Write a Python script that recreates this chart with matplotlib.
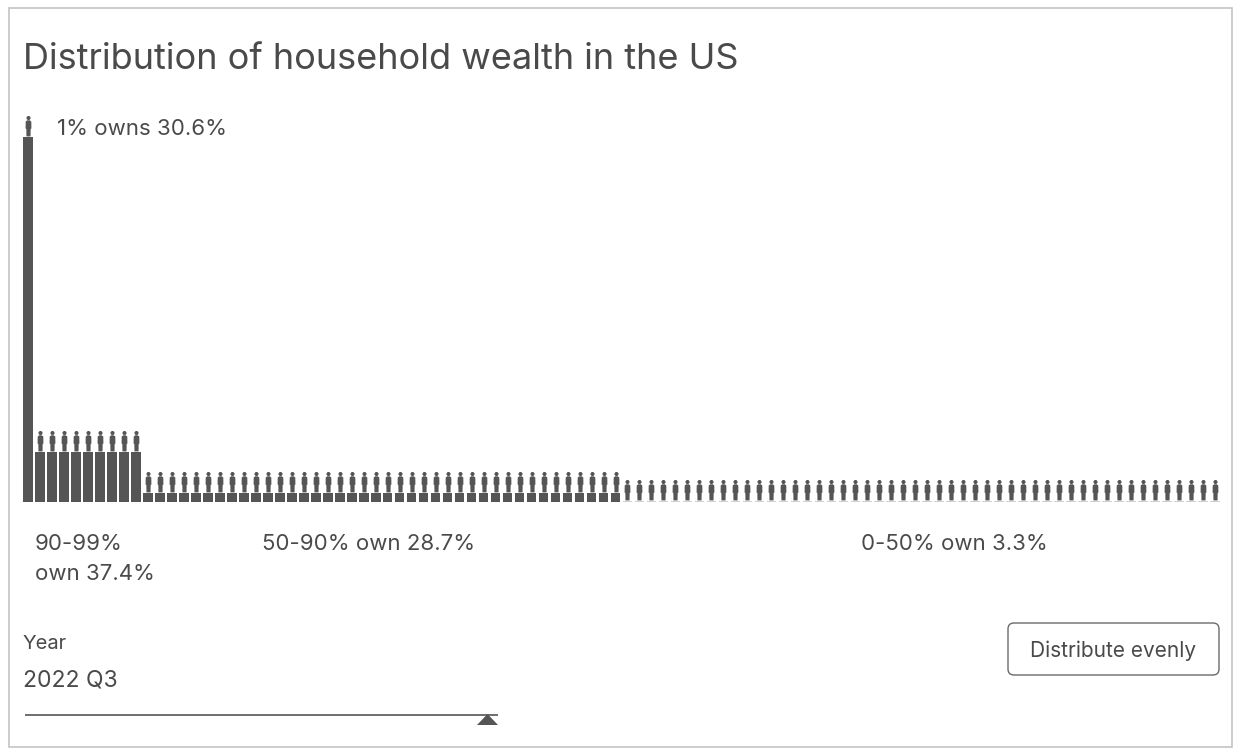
import numpy as np
import matplotlib
matplotlib.use("Agg")
import matplotlib.pyplot as plt
from matplotlib.path import Path
from matplotlib.patches import Rectangle, FancyBboxPatch, Polygon

# ---- data ----
groups = ["1%", "90-99%", "50-90%", "0-50%"]
group_counts = [1, 9, 40, 50]          # percentiles in each group
group_shares = [30.6, 37.4, 28.7, 3.3]  # share of wealth (%)
title = "Distribution of household wealth in the US"
year_label = "2022 Q3"

plt.rcParams['font.family'] = ['Inter', 'DejaVu Sans']
TXT = "#4a4a4a"
BAR = "#555555"
LIGHT = "#cfcfcf"

W, H = 1240, 754
fig = plt.figure(figsize=(W / 100, H / 100), dpi=100)

# overlay in pixel coordinates for UI elements
ov = fig.add_axes([0, 0, 1, 1])
ov.set_xlim(0, W)
ov.set_ylim(H, 0)
ov.axis("off")
ov.add_patch(Rectangle((9, 8), 1223, 739, fill=False, ec="#c4c4c4", lw=1.2))

# bar axes
x0, x1 = 22, 1221
base, top = 502, 137
ax = fig.add_axes([x0 / W, (H - base) / H, (x1 - x0) / W, (base - top) / H])
ax.set_xlim(0, 100)
ax.set_ylim(0, group_shares[0] / group_counts[0])
ax.axis("off")

values = np.concatenate([np.full(c, s / c) for c, s in zip(group_counts, group_shares)])
idx = np.arange(len(values))
colors = [BAR if v > 0.2 else LIGHT for v in values]
ax.bar(idx + 0.1, values, width=0.8, align="edge", color=colors, lw=0)
# make tiny bars visible (at least ~1px)
tiny = values <= 0.2
ax.bar(idx[tiny] + 0.1, np.full(tiny.sum(), 0.1), width=0.8, align="edge", color=LIGHT, lw=0)

# person silhouette marker (bottom at y~0.05, top at 1)
head = Path.circle((0, 0.905), 0.095)
body = Path([(-0.06, 0.80), (0.06, 0.80), (0.13, 0.74), (0.135, 0.42), (0.10, 0.39),
             (0.095, 0.05), (-0.095, 0.05), (-0.10, 0.39), (-0.135, 0.42), (-0.13, 0.74),
             (-0.06, 0.80)], closed=True)
person = Path.make_compound_path(head, body)
ax.plot(idx + 0.5, np.maximum(values, 0.1), ls="none", marker=person, ms=31,
        mfc=BAR, mec="none", clip_on=False)

# ---- text ----
ov.text(23, 69, title, fontsize=26, color=TXT, va="baseline", ha="left")
ov.text(57, 135, f"{groups[0]} owns {group_shares[0]}%", fontsize=16, color=TXT, va="baseline")
ov.text(35, 550, f"{groups[1]}", fontsize=16, color=TXT, va="baseline")
ov.text(35, 580, f"own {group_shares[1]}%", fontsize=16, color=TXT, va="baseline")
ov.text(262, 550, f"{groups[2]} own {group_shares[2]}%", fontsize=16, color=TXT, va="baseline")
ov.text(861, 550, f"{groups[3]} own {group_shares[3]}%", fontsize=16, color=TXT, va="baseline")

ov.text(23, 649, "Year", fontsize=14.5, color=TXT, va="baseline")
ov.text(23, 686, year_label, fontsize=16.5, color=TXT, va="baseline")

# slider
ov.plot([25, 498], [715, 715], color=BAR, lw=1.2, solid_capstyle="butt")
ov.add_patch(Polygon([(477, 725), (498, 725), (487.5, 714)], closed=True, fc=BAR, ec="none"))

# button
ov.add_patch(FancyBboxPatch((1008, 623), 211, 52, boxstyle="round,pad=0,rounding_size=6",
                            fc="white", ec="#6a6a6a", lw=1.0))
ov.text(1113.5, 657, "Distribute evenly", fontsize=15, color=TXT, ha="center", va="baseline")

fig.savefig("out.png", dpi=100, facecolor="white")
